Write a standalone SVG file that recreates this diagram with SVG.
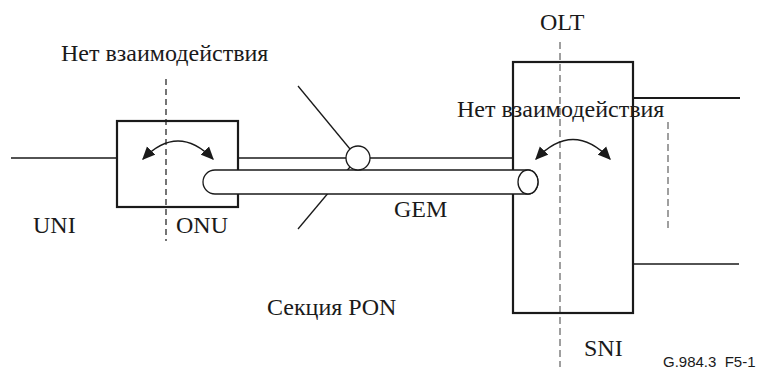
<svg xmlns="http://www.w3.org/2000/svg" width="762" height="371" viewBox="0 0 762 371">
<style>
.lbl{font-family:"Liberation Serif","Times New Roman",serif;font-size:24px;fill:#1a1a1a}
.ref{font-family:"Liberation Sans",Arial,sans-serif;font-size:15px;fill:#1a1a1a}
.box{fill:none;stroke:#1a1a1a;stroke-width:2.2}
.ln{fill:none;stroke:#1a1a1a;stroke-width:1.3}
.dash{fill:none;stroke:#1a1a1a;stroke-width:1.2;stroke-dasharray:6 4}
.gdash{fill:none;stroke:#808080;stroke-width:1.5;stroke-dasharray:7 4}
.arc{fill:none;stroke:#1a1a1a;stroke-width:1.3}
.wht{fill:#fff;stroke:#1a1a1a;stroke-width:1.3}
</style>
<defs>
<marker id="ah" viewBox="0 0 10 10" refX="9" refY="5" markerWidth="13" markerHeight="13" markerUnits="userSpaceOnUse" orient="auto-start-reverse">
<path d="M0,0.5 L10,5 L0,9.5 z" fill="#1a1a1a"/>
</marker>
</defs>
<g id="connectors">
<line class="ln" x1="11" y1="158" x2="117" y2="158"/>
<line class="ln" x1="238" y1="158" x2="513" y2="158"/>
<line class="ln" x1="298" y1="86" x2="350" y2="149"/>
<line class="ln" x1="298" y1="229" x2="350" y2="167"/>
<line class="box" x1="633" y1="98" x2="740" y2="98"/>
<line class="ln" x1="633" y1="264" x2="739" y2="264" stroke-width="1.6"/>
</g>
<g id="boundaries">
<line class="dash" x1="166" y1="79" x2="166" y2="241"/>
<line class="gdash" x1="560" y1="42" x2="560" y2="367"/>
<line class="gdash" x1="668" y1="122" x2="668" y2="230"/>
</g>
<g id="onu">
<rect class="box" x="117" y="121" width="121" height="86"/>
<path class="arc" d="M143,159 Q178,123 213,159" marker-start="url(#ah)" marker-end="url(#ah)"/>
</g>
<g id="olt">
<rect class="box" x="513" y="62" width="120" height="251"/>
<path class="arc" d="M536,159 Q573,120 610,159" marker-start="url(#ah)" marker-end="url(#ah)"/>
</g>
<g id="gem">
<path class="wht" d="M215,170 L528,170 A10,12 0 0 1 528,194 L215,194 A12,12 0 0 1 215,170 Z"/>
<ellipse class="wht" cx="528" cy="182" rx="10" ry="12"/>
</g>
<g id="splitter">
<circle class="wht" cx="358" cy="158" r="12"/>
</g>
<g id="labels">
<text class="lbl" x="61" y="61">Нет взаимодействия</text>
<text class="lbl" x="540" y="30">OLT</text>
<text class="lbl" x="457" y="117">Нет взаимодействия</text>
<text class="lbl" x="33" y="233">UNI</text>
<text class="lbl" x="176" y="233">ONU</text>
<text class="lbl" x="394" y="217">GEM</text>
<text class="lbl" x="267" y="315">Секция PON</text>
<text class="lbl" x="584" y="356">SNI</text>
<text class="ref" x="663" y="367" xml:space="preserve">G.984.3  F5-1</text>
</g>
</svg>
